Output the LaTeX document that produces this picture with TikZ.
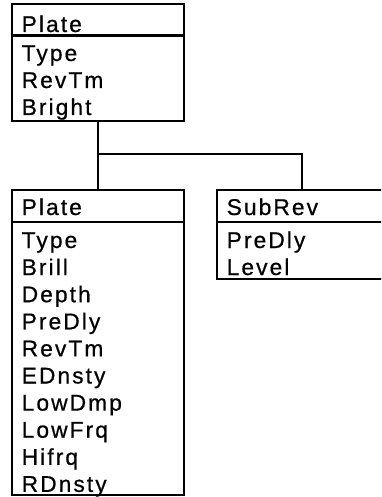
\documentclass[tikz,border=0pt]{standalone}
\usepackage{fontspec}
\newfontfamily\labfont[LetterSpace=9,FakeBold=0.6]{Liberation Sans}
\usetikzlibrary{calc}
\begin{document}
\begin{tikzpicture}[x=1pt,y=-1pt,
  boxstyle/.style={draw=black,line width=2.8pt,rectangle,inner sep=0pt,fill=none},
  divider/.style={line width=2.2pt},
  conn/.style={line width=1.7pt},
  lbl/.style={anchor=base west,inner sep=0pt,font=\labfont\fontsize{22.8}{27}\selectfont}]
\useasboundingbox (0,0) rectangle (381,497);
\clip (0,0) rectangle (381,497);
% boxes
\node[boxstyle,minimum width=172pt,minimum height=117pt] (topbox) at (98,62.5) {};
\node[boxstyle,minimum width=172pt,minimum height=305pt] (leftbox) at (98,342.5) {};
\node[boxstyle,minimum width=170pt,minimum height=89pt] (subbox) at (302,234.5) {};
% dividers
\draw[divider] ([yshift=-33pt]topbox.north west) -- ([yshift=-33pt]topbox.north east);
\draw[divider] ([yshift=-33pt]leftbox.north west) -- ([yshift=-33pt]leftbox.north east);
\draw[divider] ([yshift=-33pt]subbox.north west) -- ([yshift=-33pt]subbox.north east);
% connectors
\coordinate (junc) at (98,154);
\draw[conn] (topbox.south) -- (leftbox.north);
\draw[conn] (junc) -| (subbox.north);
% top box text
\node[lbl] (t0) at (21.5,32) {Plate};
\node[lbl] (t1) at (21.5,61) {Type};
\node[lbl] (t2) at (21.5,88) {RevTm};
\node[lbl] (t3) at (21.5,115) {Bright};
% left box text
\node[lbl] (l0) at (21.5,215) {Plate};
\foreach \txt [count=\i from 0] in {Type,Brill,Depth,PreDly,RevTm,EDnsty,LowDmp,LowFrq,Hifrq,RDnsty}{
  \node[lbl] (l\i r) at (21.5,248+27.1*\i) {\txt};
}
% sub box text
\node[lbl] (s0) at (226.5,215) {SubRev};
\node[lbl] (s1) at (226.5,248) {PreDly};
\node[lbl] (s2) at (226.5,275) {Level};
\end{tikzpicture}
\end{document}
